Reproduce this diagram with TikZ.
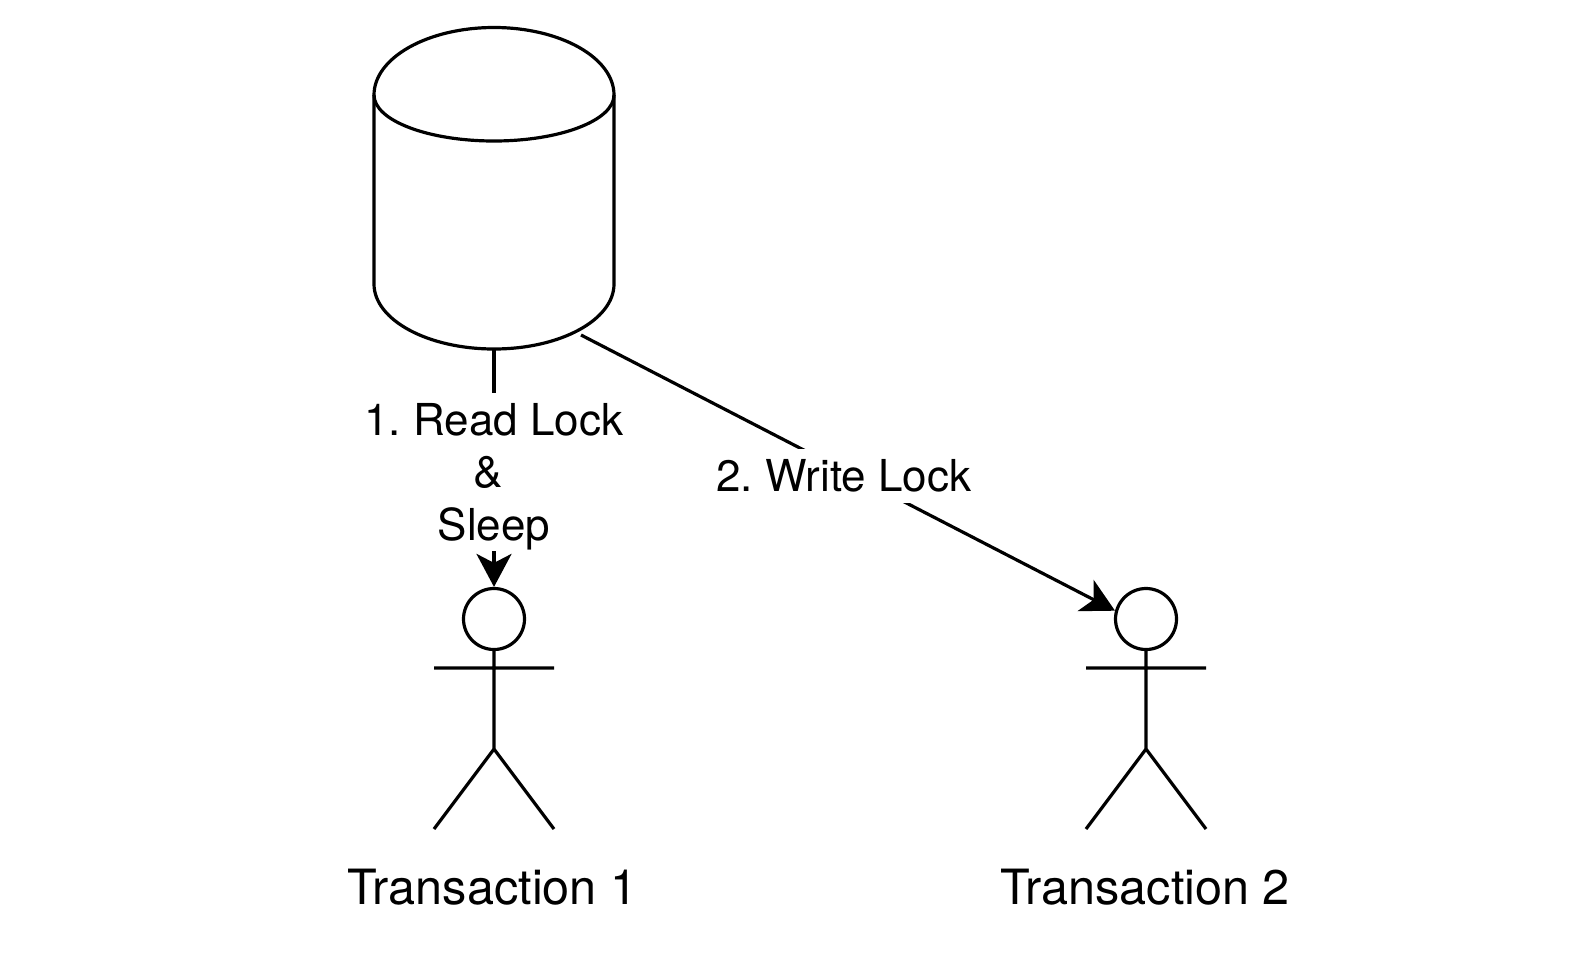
\documentclass[tikz,border=0pt]{standalone}
\usepackage{fontspec}
\setmainfont{TeX Gyre Heros}
\usetikzlibrary{arrows.meta}
\frenchspacing
\begin{document}
\begin{tikzpicture}[x=1pt,y=-1pt,
  stroke/.style={draw=black,line width=3.2pt},
  conn/.style={stroke,-{Stealth[length=33pt,width=35pt,inset=9pt]}},
  lbl/.style={font=\fontsize{44}{52.5}\selectfont,text=black,align=center,inner sep=0pt},
  lblbg/.style={lbl,fill=white,inner sep=0pt},
  captiontext/.style={lbl,font=\fontsize{48.6}{56}\selectfont},
  head/.style={stroke,circle,minimum size=61pt,inner sep=0pt}]
\useasboundingbox (0,0) rectangle (1576,972);
% database
\draw[stroke,line join=round] (374,95) arc[start angle=180,end angle=360,x radius=120,y radius=67.5]
  -- (614,284) arc[start angle=0,end angle=180,x radius=120,y radius=65] -- cycle;
\draw[stroke] (374,95) arc[start angle=180,end angle=0,x radius=120,y radius=46];
\coordinate (dbbottom) at (494,349);
\coordinate (dbright) at (581,335);
% actors
\node[head] (h1) at (494,619) {};
\node[head] (h2) at (1146,619) {};
\draw[stroke] (h1.south) -- (494,749) (434,668) -- (554,668) (434,829) -- (494,749) -- (554,829);
\draw[stroke] (h2.south) -- (1146,749) (1086,668) -- (1206,668) (1086,829) -- (1146,749) -- (1206,829);
% connectors
\draw[conn] (dbbottom) -- (h1.north);
\draw[conn] (dbright) -- (h2.165);
% labels
\node[lblbg,minimum height=158pt] (l1) at (494,472) {\rule{0pt}{41pt}1. Read Lock\\\&\rule{12pt}{0pt}\\Sleep};
\node[lblbg,minimum height=54pt] (l2) at (844,476) {2. Write Lock};
\node[captiontext] (t1) at (492.5,887) {Transaction 1};
\node[captiontext] (t2) at (1145,887) {Transaction 2};
\end{tikzpicture}
\end{document}
